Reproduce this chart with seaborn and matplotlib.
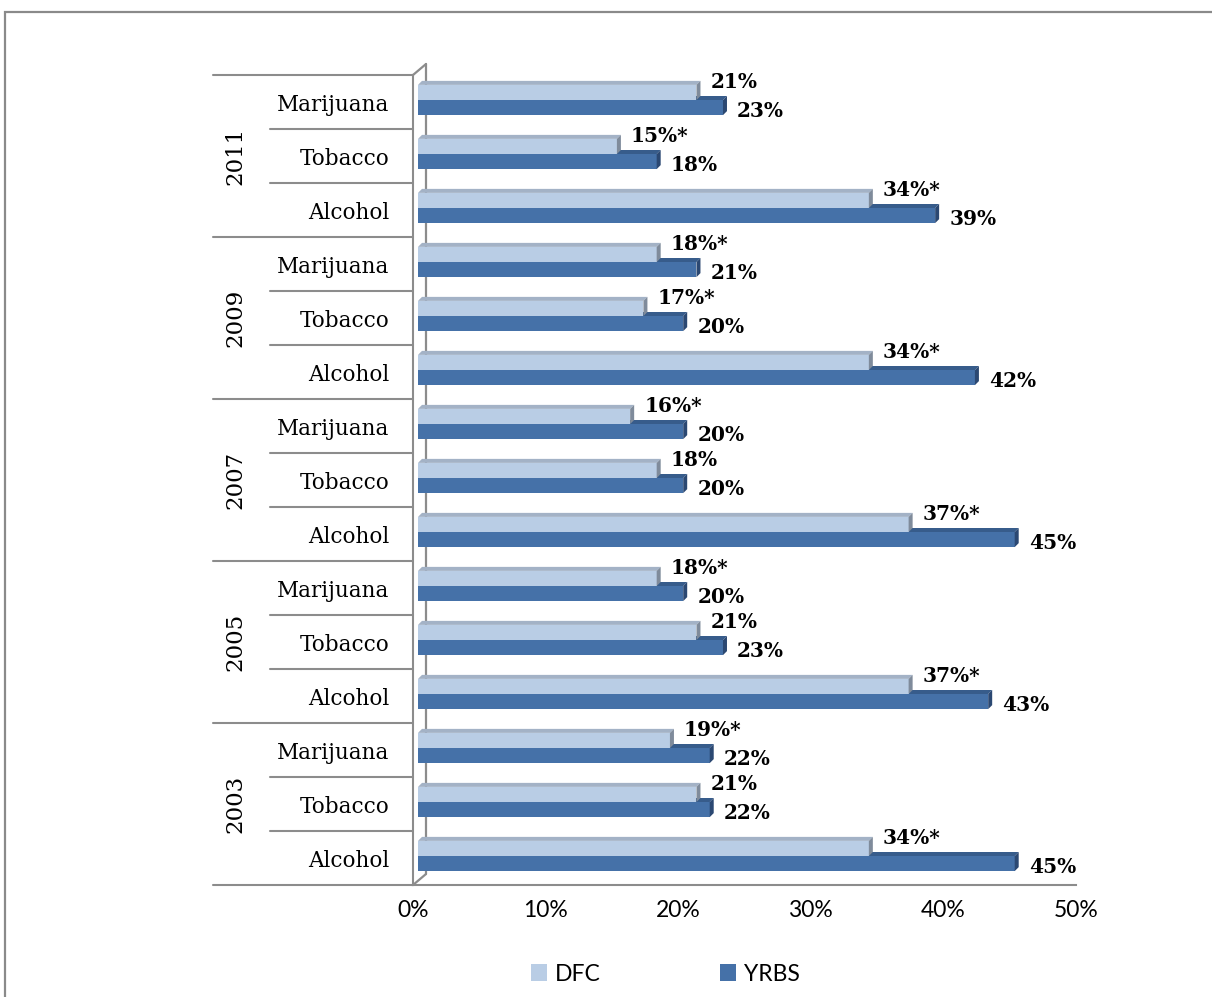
import matplotlib
matplotlib.use("Agg")
import matplotlib.pyplot as plt
import matplotlib.transforms as mtrans
from matplotlib.patches import Polygon, Rectangle
from matplotlib.lines import Line2D
import numpy as np
import pandas as pd
import seaborn as sns

# ---- data -------------------------------------------------------------
years = ["2011", "2009", "2007", "2005", "2003"]
substances = ["Marijuana", "Tobacco", "Alcohol"]
dfc = [21, 15, 34, 18, 17, 34, 16, 18, 37, 18, 21, 37, 19, 21, 34]
yrbs = [23, 18, 39, 21, 20, 42, 20, 20, 45, 20, 23, 43, 22, 22, 45]
dfc_significant = [False, True, True, True, True, True, True, False, True,
                   True, False, True, True, False, True]
x_ticks = [0, 10, 20, 30, 40, 50]
series = ["DFC", "YRBS"]

rows = [f"{y} {s}" for y in years for s in substances]
row_labels = [s for _ in years for s in substances]
df = pd.DataFrame({
    "row": rows * 2,
    "survey": ["DFC"] * len(rows) + ["YRBS"] * len(rows),
    "value": dfc + yrbs,
})

# ---- style ------------------------------------------------------------
sns.set_style("white")
plt.rcParams["font.family"] = ["Lato", "DejaVu Sans"]
plt.rcParams["text.color"] = "black"
plt.rcParams["xtick.color"] = "black"
plt.rcParams["ytick.color"] = "black"
SERIF = "DejaVu Serif"
GRID = "#8c8c8c"
front = {"DFC": "#b9cde5", "YRBS": "#4571a8"}
top_face = {"DFC": "#a3b2c6", "YRBS": "#375c8b"}
side_face = {"DFC": "#7f8b9b", "YRBS": "#2b4872"}

W, H = 1212, 997
fig = plt.figure(figsize=(W / 100, H / 100), dpi=100)
fig.patch.set_facecolor("white")

# outer chart frame
fig.add_artist(Rectangle((5 / W, -0.1), 1.2, 1.1 - 12 / H,
                         transform=fig.transFigure, fill=False,
                         edgecolor="#8a8a8a", lw=1.6, clip_on=False))

ax = fig.add_axes([413 / W, 1 - 885 / H, (1076 - 413) / W, (885 - 75) / H])
sns.barplot(data=df, y="row", x="value", hue="survey", order=rows,
            hue_order=series, palette=[front[s] for s in series],
            width=0.56, orient="h", saturation=1, errorbar=None,
            legend=False, ax=ax)
ax.set_xlim(0, 50)
ax.set_ylim(len(rows) - 0.5, -0.5)
ax.set_xlabel("")
ax.set_ylabel("")
ax.set_xticks(x_ticks)
ax.set_xticklabels([f"{t}%" for t in x_ticks], fontsize=16.5)
ax.set_yticks(range(len(rows)))
ax.set_yticklabels(row_labels, family=SERIF, fontsize=15.5)
ax.tick_params(axis="y", length=0, pad=17)
ax.tick_params(axis="x", length=4.5, width=1.4, color=GRID, pad=6,
               direction="out", labelcolor="black")
for side in ["top", "right"]:
    ax.spines[side].set_visible(False)
for side in ["left", "bottom"]:
    ax.spines[side].set_color(GRID)
    ax.spines[side].set_linewidth(1.5)
    ax.spines[side].set_zorder(0.5)

fig.canvas.draw()

# ---- 3-D bar faces ------------------------------------------------------
px = 1 / 100.0
shift = mtrans.ScaledTranslation(5 * px, 2 * px, fig.dpi_scale_trans)
front_tr = ax.transData + shift
d = 4  # depth in pixels
ident = mtrans.IdentityTransform()

bars = [p for p in ax.patches if isinstance(p, Rectangle) and p.get_width() > 0]
for p in bars:
    yc = p.get_y() + p.get_height() / 2
    row_idx = int(round(yc))
    name = "DFC" if yc < row_idx else "YRBS"
    base_z = 3 if name == "YRBS" else 6
    p.set_transform(front_tr)
    p.set_zorder(base_z + 1)
    p.set_edgecolor("none")
    x0, x1 = p.get_x(), p.get_x() + p.get_width()
    y_top, y_bot = p.get_y(), p.get_y() + p.get_height()
    (X0, YT), (X1, YB) = front_tr.transform([(x0, y_top), (x1, y_bot)])
    top = Polygon([(X0, YT), (X1, YT), (X1 + d, YT + d), (X0 + d, YT + d)],
                  closed=True, transform=ident, facecolor=top_face[name],
                  edgecolor="none", zorder=base_z, clip_on=False)
    side = Polygon([(X1, YB), (X1, YT), (X1 + d, YT + d), (X1 + d, YB + d)],
                   closed=True, transform=ident, facecolor=side_face[name],
                   edgecolor="none", zorder=base_z + 2, clip_on=False)
    ax.add_artist(top)
    ax.add_artist(side)

    if name == "DFC":
        label = f"{dfc[row_idx]}%" + ("*" if dfc_significant[row_idx] else "")
        off = (19, 12)
    else:
        label = f"{yrbs[row_idx]}%"
        off = (19, -1)
    ax.annotate(label, xy=(x1, yc), xytext=off, textcoords="offset pixels",
                ha="left", va="center", family=SERIF, fontweight="bold",
                fontsize=14.5, color="black", zorder=10, annotation_clip=False)

# back wall edge of the 3-D frame
(ax_l, ax_b), (_, ax_t) = ax.transAxes.transform([(0, 0), (0, 1)])
wd, wh = 13, 11
for xs, ys in [([ax_l, ax_l + wd], [ax_t, ax_t + wh]),
               ([ax_l + wd, ax_l + wd], [ax_t + wh, ax_b + wh]),
               ([ax_l, ax_l + wd], [ax_b, ax_b + wh])]:
    ax.add_artist(Line2D(xs, ys, transform=ident, color=GRID, lw=1.6,
                         zorder=1, clip_on=False))

# row separators and year labels
blend = mtrans.blended_transform_factory(ax.transAxes, ax.transData)
long_x = (213 - 413) / (1076 - 413)
short_x = (270 - 413) / (1076 - 413)
for b in np.arange(-0.5, len(rows), 1.0):
    k = int(b + 0.5)
    xs = long_x if k % 3 == 0 else short_x
    ax.plot([xs, 0], [b, b], transform=blend, color=GRID, lw=1.5,
            clip_on=False, zorder=2)
year_x = (235 - 413) / (1076 - 413)
for i, y in enumerate(years):
    ax.text(year_x, 3 * i + 1, y, transform=blend, rotation=90,
            ha="center", va="center", family=SERIF, fontsize=16.5)

# legend
handles = [Rectangle((0, 0), 1, 1, facecolor=front[s], edgecolor="none")
           for s in series]
fig.legend(handles, series, loc="center", bbox_to_anchor=(665 / W, 1 - 974 / H),
           ncol=2, frameon=False, fontsize=16.5, handlelength=0.7,
           handleheight=0.7, handletextpad=0.35, columnspacing=5.2)

fig.savefig("out.png", dpi=100, facecolor="white")
